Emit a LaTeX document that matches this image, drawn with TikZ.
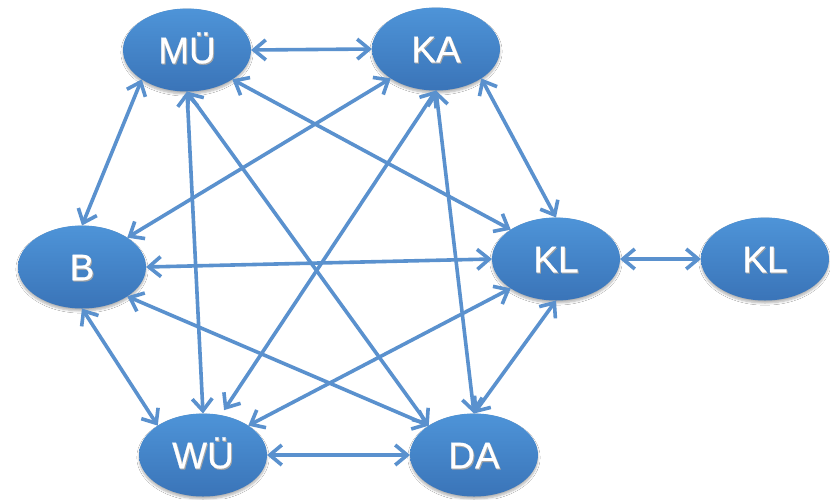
\documentclass[tikz,border=0pt]{standalone}
\usepackage{fontspec}
\setmainfont{Liberation Sans}
\usetikzlibrary{arrows.meta,shapes.geometric,shadows.blur}
\definecolor{nodetop}{RGB}{78,148,216}
\definecolor{nodebot}{RGB}{58,116,184}
\definecolor{linkblue}{RGB}{90,145,206}
% white label with a soft dark drop shadow
\newcommand\cityname[1]{\leavevmode
  \rlap{\raisebox{-1.2pt}{\hspace{1pt}\color{black!35}#1}}#1}
\tikzset{
  city/.style={ellipse, minimum width=128pt, minimum height=83pt,
    inner sep=0pt, outer sep=0pt, top color=nodetop, bottom color=nodebot,
    draw=none, text=white,
    font=\fontsize{37}{40}\selectfont\addfontfeature{FakeBold=0.6},
    text height=26.5pt, text depth=0pt,
    blur shadow={shadow xshift=0pt, shadow yshift=-2.5pt,
      shadow opacity=30, shadow blur steps=6}},
  barb/.tip={Straight Barb[length=12pt,width=20pt]},
  link/.style={draw=linkblue, line width=3.6pt, barb-barb},
}
\begin{document}
\begin{tikzpicture}[x=1pt,y=-1pt]
  \useasboundingbox (0,0) rectangle (830,499);
  \fill[white] (0,0) rectangle (830,499);

  % city nodes
  \node[city] (mu)  at (187,50)  {\cityname{MÜ}};
  \node[city] (ka)  at (436,49)  {\cityname{KA}};
  \node[city] (b)   at (82,267)  {\cityname{B}};
  \node[city] (kl)  at (556,259) {\cityname{KL}};
  \node[city] (kl2) at (765,259) {\cityname{KL}};
  \node[city] (wu)  at (203,455) {\cityname{WÜ}};
  \node[city] (da)  at (474,455) {\cityname{DA}};

  % two-way links
  \draw[link] (mu.east) -- (ka.west);
  \draw[link] (mu.south west) -- (b.north);
  \draw[link] (mu.south east) -- (kl.north west);
  \draw[link] (mu.south) -- (wu.north);
  \draw[link] (mu.south) -- (da.north west);
  \draw[link] (ka.south west) -- (b.north east);
  \draw[link] (ka.south east) -- (kl.north);
  \draw[link, shorten >=6pt] (ka.south) -- (wu.66);
  \draw[link] (ka.south) -- (da.north);
  \draw[link] (b.east) -- (kl.west);
  \draw[link] (b.south) -- (wu.north west);
  \draw[link] (b.south east) -- (da.north west);
  \draw[link] (kl.south west) -- (wu.north east);
  \draw[link] (kl.south) -- (da.north);
  \draw[link] (wu.east) -- (da.west);
  \draw[link] (kl.east) -- (kl2.west);
\end{tikzpicture}
\end{document}
